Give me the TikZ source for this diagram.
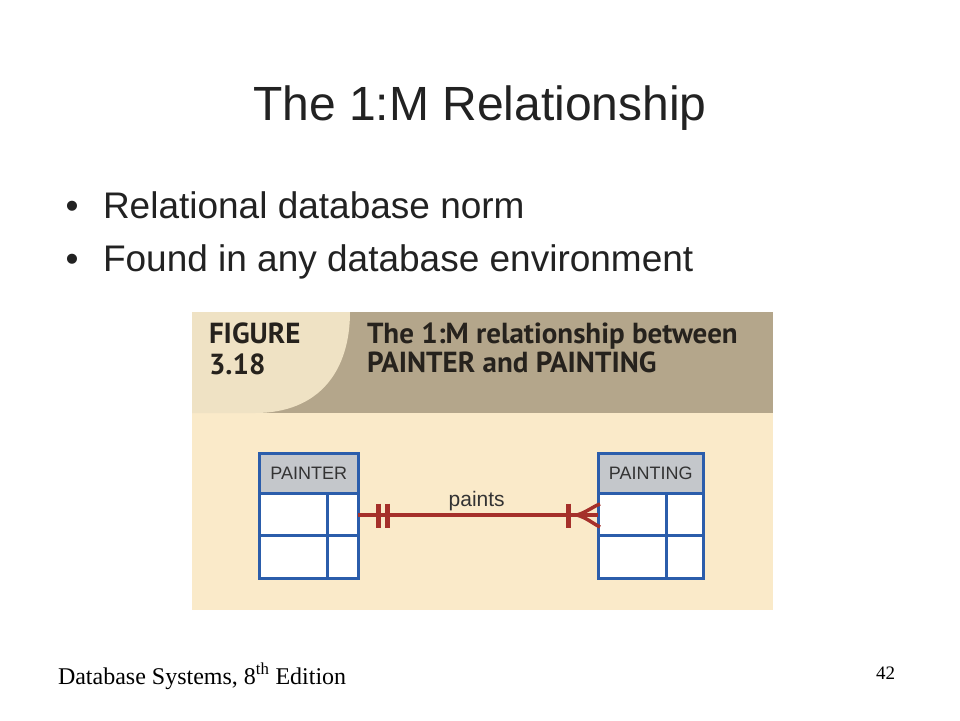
\documentclass[tikz,border=0pt]{standalone}
\usepackage{fontspec}
\setmainfont{Liberation Sans}
\newfontfamily\figfont{PT Sans}
\newfontfamily\footfont{Liberation Serif}
\usetikzlibrary{calc}
\definecolor{tanband}{HTML}{B4A68B}
\definecolor{lightband}{HTML}{EFE2C4}
\definecolor{lowbg}{HTML}{FAEAC9}
\definecolor{entblue}{HTML}{2B5DAB}
\definecolor{headgray}{HTML}{C4C7CB}
\definecolor{relred}{HTML}{A5302A}
\definecolor{slidetext}{HTML}{222222}
\definecolor{figtext}{HTML}{26221D}
\tikzset{
  slidetxt/.style={inner sep=0, outer sep=0, text=slidetext},
  figtxt/.style={inner sep=0, outer sep=0, text=figtext, font=\figfont\bfseries\fontsize{29}{33}\selectfont},
  entbox/.style={draw=entblue, line width=3pt, fill=white, minimum width=99pt, minimum height=125pt, inner sep=0, outer sep=0},
  enthead/.style={draw=entblue, line width=3pt, fill=headgray, minimum height=40pt, inner sep=0, outer sep=0, text=black!80, font=\fontsize{18}{20}\selectfont},
  entline/.style={draw=entblue, line width=3pt},
  rel/.style={draw=relred, line width=4pt},
  reltick/.style={draw=relred, line width=4.5pt},
}
\begin{document}
\begin{tikzpicture}[x=1pt,y=-1pt]
\useasboundingbox (0,0) rectangle (960,720);
\fill[white] (0,0) rectangle (960,720);
% title and bullets
\node[slidetxt, anchor=base, font=\fontsize{48}{56}\selectfont] (title) at (480,120) {The 1:M Relationship};
\node[slidetxt, anchor=base, font=\fontsize{37}{42}\selectfont] (b1) at (72,218) {•};
\node[slidetxt, anchor=base west, font=\fontsize{37}{42}\selectfont] (t1) at (103,218) {Relational database norm};
\node[slidetxt, anchor=base, font=\fontsize{37}{42}\selectfont] (b2) at (72,271) {•};
\node[slidetxt, anchor=base west, font=\fontsize{37}{42}\selectfont] (t2) at (103,271) {Found in any database environment};
% figure background
\fill[lowbg] (192,413) rectangle (773,610);
\fill[tanband] (192,312) rectangle (773,413);
\fill[lightband] (192,312) -- (350,312) .. controls (350,370) and (320,413) .. (255,413) -- (192,413) -- cycle;
\node[figtxt, anchor=base west] (fig1) at (209,343) {FIGURE};
\node[figtxt, anchor=base west] (fig2) at (209,374) {3.18};
\node[figtxt, anchor=base west] (cap1) at (367,343) {The 1:M relationship between};
\node[figtxt, anchor=base west] (cap2) at (367,372) {PAINTER and PAINTING};
% entities
\node[entbox] (painter) at (308.8,515.8) {};
\node[enthead, minimum width=99pt, anchor=north] (painterh) at (painter.north) {PAINTER};
\draw[entline] (painter.west |- 0,535) -- (painter.east |- 0,535);
\draw[entline] (327.3,0 |- painterh.south) -- (327.3,0 |- painter.south);
\node[entbox, minimum width=105pt] (painting) at (650.8,515.8) {};
\node[enthead, minimum width=105pt, anchor=north] (paintingh) at (painting.north) {PAINTING};
\draw[entline] (painting.west |- 0,535) -- (painting.east |- 0,535);
\draw[entline] (666,0 |- paintingh.south) -- (666,0 |- painting.south);
% relationship
\draw[rel] (painter.east |- 0,515) -- (painting.west |- 0,515);
\draw[reltick] (378.3,503.5) -- (378.3,527.5);
\draw[reltick] (387.3,503.5) -- (387.3,527.5);
\draw[reltick] (568.3,503.5) -- (568.3,527.5);
\draw[rel, line width=3.5pt] (577,515) .. controls (587,512) and (592,507) .. (600,504);
\draw[rel, line width=3.5pt] (577,515) .. controls (587,518) and (592,523) .. (600,527);
\node[slidetxt, anchor=base, text=black!80, font=\fontsize{21}{24}\selectfont] (paints) at (476.7,506.7) {paints};
% footer
\node[slidetxt, anchor=base west, text=black, font=\footfont\fontsize{24}{28}\selectfont] (foot) at (58,684) {Database Systems, 8\textsuperscript{th} Edition};
\node[slidetxt, anchor=base west, text=black, font=\footfont\fontsize{19}{22}\selectfont] (page) at (876,679) {42};
\end{tikzpicture}
\end{document}
